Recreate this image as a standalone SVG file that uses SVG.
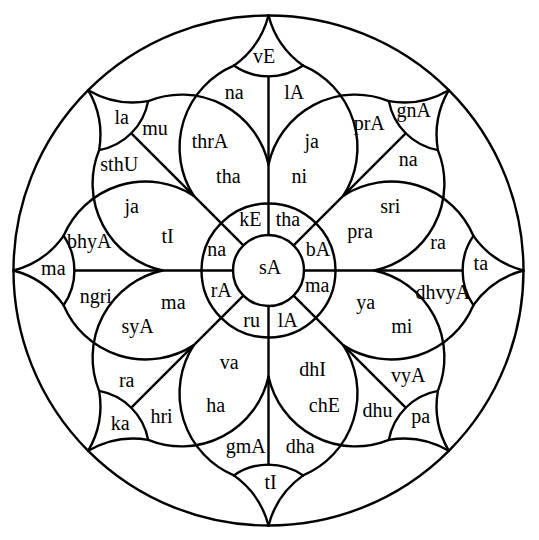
<svg xmlns="http://www.w3.org/2000/svg" xmlns:xlink="http://www.w3.org/1999/xlink" width="539" height="540" viewBox="0 0 539 540">
<style>
.l{fill:none;stroke:#000;stroke-width:2.4;stroke-linecap:round}
text{font-family:"Liberation Serif","Times New Roman",serif;font-size:20px;text-anchor:middle;fill:#000}
</style>
<defs>
<g id="sector" class="l">
<path d="M -74.88 -74.88 A 89 89 0 0 1 -34.66 -204.89"/>
<path d="M 34.66 -204.89 A 89 89 0 0 1 74.88 -74.88"/>
<path d="M -34.66 -204.89 A 61 61 0 0 0 34.66 -204.89"/>
<path d="M 0 -255 A 89 89 0 0 1 -34.66 -204.89"/>
<path d="M 0 -255 A 89 89 0 0 0 34.66 -204.89"/>
<path d="M 0 -35.5 L 0 -194"/>
</g>
</defs>
<rect width="539" height="540" fill="#fff"/>
<g id="frame" class="l">
<circle cx="268.5" cy="270.5" r="255"/>
<circle cx="268.5" cy="270.5" r="67"/>
<circle cx="268.5" cy="270.5" r="35.5"/>
</g>
<g id="petals" transform="translate(268.5 270.5)">
<use href="#sector"/>
<use href="#sector" transform="rotate(45)"/>
<use href="#sector" transform="rotate(90)"/>
<use href="#sector" transform="rotate(135)"/>
<use href="#sector" transform="rotate(180)"/>
<use href="#sector" transform="rotate(225)"/>
<use href="#sector" transform="rotate(270)"/>
<use href="#sector" transform="rotate(315)"/>
</g>
<g id="labels">
<text x="264.2" y="63.3">vE</text>
<text x="234.2" y="99.3">na</text>
<text x="294.2" y="99.3">lA</text>
<text x="210" y="148.3">thrA</text>
<text x="311.7" y="148.3">ja</text>
<text x="228.3" y="183.3">tha</text>
<text x="299.2" y="183.3">ni</text>
<text x="121.7" y="124">la</text>
<text x="155" y="135">mu</text>
<text x="119.2" y="171">sthU</text>
<text x="369.2" y="130">prA</text>
<text x="413.7" y="117.3">gnA</text>
<text x="408.2" y="165.7">na</text>
<text x="250.3" y="225.7">kE</text>
<text x="288" y="225.7">tha</text>
<text x="216.7" y="255.7">na</text>
<text x="318" y="255.7">bA</text>
<text x="270" y="274">sA</text>
<text x="221.2" y="297.3">rA</text>
<text x="317.2" y="291.7">ma</text>
<text x="251.7" y="326.7">ru</text>
<text x="287.8" y="326.7">lA</text>
<text x="131.7" y="213.3">ja</text>
<text x="167.5" y="243.3">tI</text>
<text x="89.2" y="248.3">bhyA</text>
<text x="53.3" y="275">ma</text>
<text x="95.8" y="303.3">ngri</text>
<text x="173.3" y="309.3">ma</text>
<text x="137.5" y="333.3">syA</text>
<text x="390.3" y="213.3">sri</text>
<text x="360" y="238.3">pra</text>
<text x="438" y="249">ra</text>
<text x="480.8" y="270">ta</text>
<text x="442.8" y="299.3">dhvyA</text>
<text x="365.8" y="309">ya</text>
<text x="401.7" y="333.3">mi</text>
<text x="229.3" y="369">va</text>
<text x="312.7" y="375.7">dhI</text>
<text x="215.8" y="411.7">ha</text>
<text x="324.3" y="411.7">chE</text>
<text x="245.8" y="453.3">gmA</text>
<text x="300.3" y="453.3">dha</text>
<text x="270.5" y="489.3">tI</text>
<text x="126.7" y="386.7">ra</text>
<text x="120.3" y="430">ka</text>
<text x="161.5" y="423.3">hri</text>
<text x="408.3" y="382.3">vyA</text>
<text x="377.5" y="417.3">dhu</text>
<text x="420.8" y="422.7">pa</text>
</g>
</svg>
